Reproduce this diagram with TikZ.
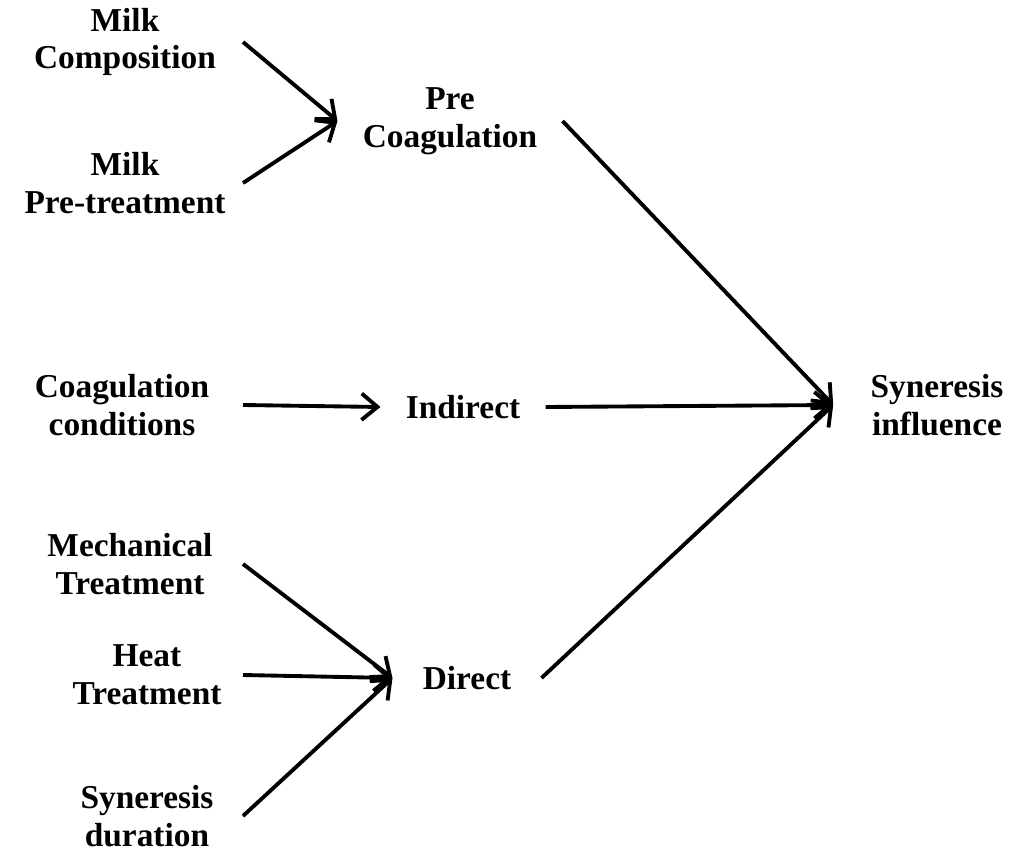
\documentclass[tikz,border=0pt]{standalone}
\usepackage{fontspec}
\setmainfont{Liberation Serif}
\usetikzlibrary{arrows.meta}

\begin{document}
\begin{tikzpicture}[x=0.02cm, y=-0.02cm, >={Straight Barb[length=9pt,width=15pt,line width=2.2pt]},
  every node/.style={font=\fontsize{19}{21.6}\selectfont\bfseries, align=center},
  mid/.style={inner xsep=0.5cm},
  arr/.style={->, line width=2.2pt}]
\useasboundingbox (0,0) rectangle (1015,851);
% factors
\node (mc) at (125,42) {Milk\\Composition};
\node (mp) at (125,183) {Milk\\Pre-treatment};
\node (cc) at (122,405) {Coagulation\\conditions};
\node (mt) at (130,564) {Mechanical\\Treatment};
\node (ht) at (147,675) {Heat\\Treatment};
\node (sd) at (147,816) {Syneresis\\duration};
% groups
\node[mid] (pc) at (450,121) {Pre\\Coagulation};
\node[mid] (ind) at (463,407) {Indirect};
\node[mid, inner xsep=0.6cm] (dir) at (467,678) {Direct};
\node[inner xsep=0.74cm] (si) at (937,405) {Syneresis\\influence};
\coordinate (lcol) at (243,0);
% arrows
\draw[arr] (mc.east -| lcol) -- (pc.west);
\draw[arr] (mp.east -| lcol) -- (pc.west);
\draw[arr] (cc.east -| lcol) -- (ind.west);
\draw[arr] (mt.east -| lcol) -- (dir.west);
\draw[arr] (ht.east -| lcol) -- (dir.west);
\draw[arr] (sd.east -| lcol) -- (dir.west);
\draw[arr] (pc.east) -- (si.west);
\draw[arr] (ind.east) -- (si.west);
\draw[arr] (dir.east) -- (si.west);
\end{tikzpicture}
\end{document}
